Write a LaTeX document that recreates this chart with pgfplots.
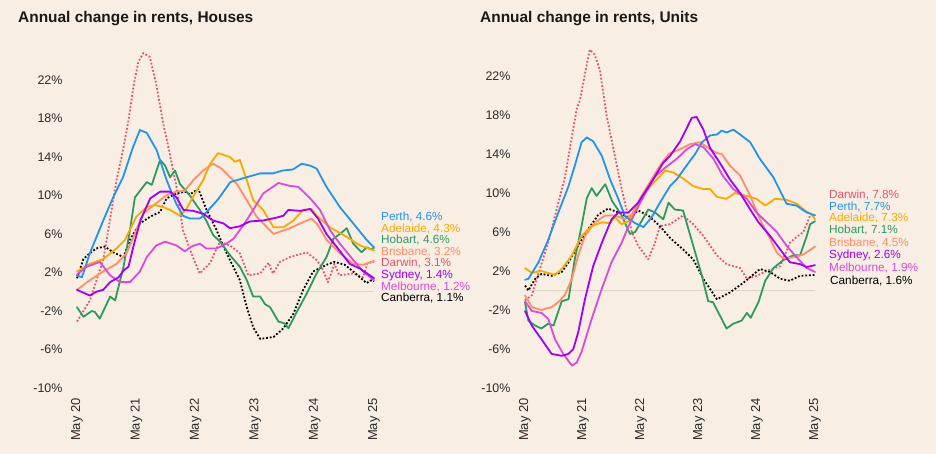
\documentclass[border=0pt]{standalone}
\usepackage{fontspec}
\setmainfont{Liberation Sans}
\usepackage{pgfplots}
\pgfplotsset{compat=1.18}

\definecolor{bgc}{HTML}{F8EEE3}
\definecolor{tickc}{HTML}{2A2A2A}
\definecolor{basec}{HTML}{DDD4CA}
\definecolor{perth}{HTML}{2493EC}
\definecolor{adelaide}{HTML}{F4AA05}
\definecolor{hobart}{HTML}{2F9A5E}
\definecolor{brisbane}{HTML}{FF8D68}
\definecolor{darwin}{HTML}{E8556A}
\definecolor{sydney}{HTML}{A000FA}
\definecolor{melbourne}{HTML}{D94BD9}

\pgfplotsset{
  rentax/.style={
    scale only axis, anchor=south west, clip=false,
    xmin=0, xmax=60, ymin=-10, ymax=22,
    axis line style={draw=none}, major tick length=0pt,
    xtick={0,12,24,36,48,60},
    xticklabels={May 20,May 21,May 22,May 23,May 24,May 25},
    ytick={-10,-6,-2,2,6,10,14,18,22},
    yticklabels={-10\%,-6\%,-2\%,2\%,6\%,10\%,14\%,18\%,22\%},
    yticklabel style={font=\fontsize{12.5}{12.5}\selectfont, text=tickc, anchor=east, xshift=-11bp},
    xticklabel style={font=\fontsize{13}{13}\selectfont, text=tickc, rotate=90, anchor=east, xshift=-7bp},
    every axis plot/.append style={line width=1.8bp, line join=round, mark=none},
  },
  solid line/.style={line cap=round},
  dot line/.style={line cap=butt, dash pattern=on 1.8bp off 1.9bp},
}

\newcommand{\lab}[3]{\node[anchor=west, inner sep=0pt, text=#1, font=\fontsize{11.8}{11.8}\selectfont] at (#2) {#3};}

\begin{document}
\begin{tikzpicture}
\begin{scope}[x=1bp, y=1bp]
\fill[bgc] (0,0) rectangle (936,454);
\node[anchor=west, inner sep=0pt, font=\fontsize{15.5}{15.5}\bfseries\selectfont, text=black!90] at (18,435) {Annual change in rents, Houses};
\node[anchor=west, inner sep=0pt, font=\fontsize{15.5}{15.5}\bfseries\selectfont, text=black!90] at (480,435) {Annual change in rents, Units};
\end{scope}

% Houses
\begin{axis}[rentax, at={(77bp,66bp)}, width=297bp, height=308bp]
\addplot[basec, line width=1.2bp] coordinates {(0,0) (60,0)};
\addplot[darwin, dot line] coordinates {(0,-3.1)(2.6,-0.9)(5.3,3.3)(8,11.6)(9.4,15.0)(10.4,17.8)(11.4,21.3)(12.4,23.9)(13.4,24.8)(14.7,24.4)(16,21.6)(17.4,17.5)(18.1,15.9)(20.1,10.9)(21.4,6.4)(23.4,3.6)(24.8,1.9)(26.9,3.0)(28.2,4.5)(28.9,5.2)(30.9,4.8)(32.9,4.0)(34.6,1.7)(37,1.9)(38.7,3.0)(39.6,1.9)(41,3.1)(43,3.6)(46.4,4.1)(48.4,3.3)(49.4,2.6)(50.7,1.0)(52,2.9)(53,1.7)(55.8,1.9)(57.8,1.5)(58.7,3.0)(60,3.1)};
\addplot[black, dot line] coordinates {(0,1.4)(1.3,3.4)(2.6,4.0)(3.9,4.5)(5.6,4.7)(7.3,4.1)(9.4,3.6)(10.7,5.4)(12.7,7.1)(14.8,7.8)(16.8,8.3)(18.1,9.7)(20.1,10.2)(21.8,10.4)(22.8,10.1)(24.5,10.7)(26.1,8.6)(28.2,6.4)(29.5,4.8)(30.9,3.3)(32.9,1.2)(34.3,-1.6)(35.6,-3.7)(37,-4.9)(39.7,-4.7)(41.7,-3.8)(43.7,-2.3)(45.7,0.2)(47.7,2.1)(50.4,2.8)(52,3.1)(54.1,2.8)(55.8,2.1)(58.5,0.9)(59.5,1.2)(60,1.1)};
\addplot[hobart, solid line] coordinates {(0,-1.6)(1.3,-2.6)(3,-2.0)(3.6,-2.1)(4.6,-2.8)(6.7,-0.5)(7.7,-0.9)(9.4,2.6)(10.7,6.4)(11.7,9.8)(14.1,11.4)(15.1,11.1)(16.8,13.7)(17.8,13.1)(18.8,11.9)(19.8,12.6)(20.8,11.2)(22.8,10.0)(24.8,8.5)(26.1,7.4)(27.5,5.9)(28.9,5.2)(30.9,3.8)(32.9,2.6)(34.3,1.2)(35.6,-0.5)(37,-0.5)(38,-1.3)(39,-1.6)(40.7,-3.1)(42,-3.3)(42.7,-3.8)(44.4,-2.1)(46.4,-0.2)(48.4,1.9)(50.4,3.6)(51.8,5.5)(53.1,6.0)(54.5,6.6)(55.8,5.0)(57.5,4.1)(58.5,4.6)(59.5,4.4)(60,4.6)};
\addplot[brisbane, solid line] coordinates {(0,0.2)(2.6,1.2)(5.3,2.1)(8,2.9)(10,4.0)(12,6.4)(13.4,8.1)(16,9.2)(18,10.0)(20,10.4)(21.8,10.5)(23.5,11.6)(25.5,12.6)(27.5,13.3)(29.2,12.8)(30.9,11.9)(32.3,11.2)(34.3,9.5)(36.3,7.8)(39.7,6.0)(43,6.6)(45.1,7.1)(47.4,7.6)(48.7,6.9)(50.4,5.4)(53.1,4.0)(55.8,2.9)(57.8,2.8)(60,3.2)};
\addplot[adelaide, solid line] coordinates {(0,2.1)(2.6,2.9)(5.3,3.4)(8,4.5)(9.7,5.4)(12,7.8)(14.1,8.8)(15.7,9.0)(17.4,8.8)(18.8,8.5)(20.8,7.9)(22.1,8.6)(23.8,10.2)(25.5,11.6)(26.9,13.3)(28.5,14.4)(30.9,14.0)(31.9,13.5)(32.9,13.7)(34.3,11.6)(35.6,9.5)(37.6,8.5)(39.7,6.7)(41.7,6.7)(43.7,7.4)(45.7,8.5)(47.4,8.6)(48.4,7.9)(51.1,6.7)(54.5,5.7)(57.2,4.8)(60,4.3)};
\addplot[perth, solid line] coordinates {(0,1.7)(1,1.5)(2.6,4.0)(5.3,7.4)(7.3,9.8)(9.3,11.9)(11.3,15.0)(12.7,16.8)(14.1,16.5)(16.1,14.7)(18.1,11.6)(20,9.2)(21.4,7.9)(22.8,7.6)(24.8,7.6)(25.5,7.9)(28.5,9.6)(31,11.4)(34.3,11.9)(37,12.3)(39.6,12.3)(41.6,12.6)(43.6,12.7)(45.4,13.3)(47.1,13.1)(48.4,12.8)(50.4,10.9)(53.1,8.8)(55.8,7.1)(58.5,5.4)(60,4.6)};
\addplot[melbourne, solid line] coordinates {(0,1.8)(2,2.6)(4.6,3.1)(6.7,1.7)(8.7,1.0)(10.7,1.0)(12.7,2.1)(14.1,3.6)(16,4.8)(17.8,5.2)(20.1,4.8)(21.8,4.2)(23.1,4.7)(24.8,5.0)(26.1,4.5)(28.2,4.5)(30.2,5.0)(31.6,5.5)(33.6,6.9)(35.6,8.5)(37.6,10.2)(40.7,11.3)(43,11.0)(44.7,10.9)(47.1,9.7)(49.1,8.5)(51.1,6.4)(53.1,5.0)(55.8,3.3)(57.8,2.1)(60,1.2)};
\addplot[sydney, solid line] coordinates {(0,0.2)(2.6,-0.4)(3.9,0)(5.3,0.2)(6.7,1.0)(8.4,1.5)(9.4,2.2)(10.4,2.6)(11.4,4.7)(12.8,7.4)(14.8,9.7)(16.8,10.4)(18.8,10.4)(20.1,9.8)(21.5,8.5)(23.5,8.4)(25.5,8.1)(27.5,7.4)(29.6,7.1)(30.9,6.6)(32.9,6.8)(34.9,7.3)(37.6,7.4)(40.3,7.7)(41.7,7.9)(42.7,8.5)(45.1,8.4)(47.1,8.6)(48.7,7.6)(50.4,6.0)(52.4,4.7)(55.1,2.9)(57.2,2.4)(60,1.4)};
\end{axis}

% Units
\begin{axis}[rentax, at={(525bp,66bp)}, width=290bp, height=312bp]
\addplot[basec, line width=1.2bp] coordinates {(0,0) (60,0)};
\addplot[darwin, dot line] coordinates {(0,-1.0)(1.4,-0.5)(2.8,1.8)(4.8,4.9)(6.9,9.0)(8.3,11.7)(9.7,15.8)(10.7,18.6)(11.4,19.6)(12.4,22.2)(13.4,24.7)(14.4,24.2)(15.5,22.6)(16.9,17.9)(18.6,13.8)(20,10.4)(22.1,6.0)(23.4,4.6)(25.5,3.2)(26.9,4.9)(27.9,6.6)(30,6.8)(32.7,7.7)(34.8,6.8)(36.9,5.6)(39.7,3.6)(41.7,2.7)(44.5,2.3)(45.9,1.2)(47.9,1.5)(50,2.0)(52.8,2.5)(54.8,4.9)(56.2,5.5)(57.6,6.0)(59,7.7)(60,7.8)};
\addplot[black, dot line] coordinates {(0,0.5)(0.7,0)(2.1,1.2)(3.4,1.7)(5.5,1.5)(7.6,1.9)(9,2.9)(11,4.6)(13.1,6.3)(15.2,7.8)(17.2,8.4)(19.3,8.0)(21.4,7.5)(23.4,8.2)(25.5,7.7)(27.9,6.6)(30,5.4)(32.7,4.2)(34.8,3.2)(36.9,1.2)(39.7,-0.9)(42.4,-0.2)(45.2,0.8)(48.6,2.2)(50.7,1.9)(52.8,1.2)(54.8,1.0)(56.9,1.5)(60,1.6)};
\addplot[hobart, solid line] coordinates {(0,-1.2)(0.7,-3.1)(2.1,-3.6)(3.4,-3.9)(4.8,-3.4)(5.9,-3.6)(7.6,-1.1)(9,-0.9)(10.3,3.2)(11.7,6.6)(12.8,9.5)(13.8,10.5)(14.8,9.7)(16.6,10.9)(18,9.2)(20,7.7)(21.7,5.8)(22.8,6.0)(25.5,8.3)(26.9,8.0)(28.6,7.3)(29.7,9.0)(31,8.3)(32.7,8.2)(34.8,4.6)(36.6,1.5)(37.9,-1.1)(38.9,-1.2)(41.7,-3.9)(43.1,-3.4)(44.8,-3.1)(45.9,-2.3)(46.7,-2.8)(48.3,-1.2)(49.7,1.0)(51.4,2.3)(53.4,3.1)(55.5,3.6)(56.9,3.6)(58.3,5.6)(59,6.8)(60,7.1)};
\addplot[brisbane, solid line] coordinates {(0,-0.5)(1.4,-1.7)(3.4,-2.0)(5.5,-1.7)(6.9,-1.2)(8.3,-0.4)(9.7,1.2)(11,3.6)(12.4,5.6)(14.5,7.0)(16.6,7.7)(18.6,7.7)(20.7,7.3)(22.1,7.8)(24.1,9.7)(26.2,11.4)(27.9,12.8)(29.7,14.0)(32.1,14.5)(34.1,15.0)(36.2,15.2)(38.3,14.5)(39.7,14.1)(40.7,14.0)(42.4,12.8)(44.5,11.8)(46.6,9.7)(48.6,7.3)(50.7,5.3)(52.1,3.9)(53.4,3.3)(55.5,3.4)(57.6,3.7)(60,4.5)};
\addplot[adelaide, solid line] coordinates {(0,2.3)(1.4,1.8)(3.4,2.0)(4.8,1.8)(6.2,1.6)(7.6,2.2)(9.7,3.6)(11.7,5.6)(13.8,6.6)(15.9,7.0)(17.6,6.9)(18.6,7.5)(20,6.8)(21.4,7.1)(22.8,8.2)(24.8,10.0)(26.9,11.2)(29,12.3)(30.7,12.1)(32.7,11.5)(34.8,10.7)(36.9,10.4)(38.3,10.4)(39.7,9.6)(41.7,9.4)(43.4,10.0)(45.9,9.7)(47.9,9.4)(49.7,8.7)(51.7,9.4)(54.1,9.3)(56.2,8.9)(57.9,8.2)(59.3,7.8)(60,7.3)};
\addplot[perth, solid line] coordinates {(0,1.1)(0.7,1.2)(2.8,2.9)(4.8,5.2)(6.9,8.0)(9,10.7)(10.3,12.8)(11.7,15.2)(12.8,15.7)(14.1,15.3)(15.9,13.8)(17.6,11.4)(19.3,9.4)(20.7,7.6)(22.8,6.9)(24.5,6.5)(26.2,7.5)(27.9,9.0)(30,10.7)(31.4,11.4)(33.4,12.8)(35.2,14.0)(36.6,15.2)(38.3,15.9)(39.7,16.0)(40.7,16.4)(41.7,16.2)(43.1,16.5)(44.5,16.0)(46.6,15.2)(48.6,13.5)(51.4,11.6)(54.1,8.9)(56.2,8.7)(58.3,8.0)(60,7.7)};
\addplot[melbourne, solid line] coordinates {(0,-1.1)(1.4,-2.1)(3.4,-2.3)(4.8,-2.9)(6.2,-5.0)(7.9,-6.5)(9.7,-7.7)(10.7,-7.4)(11.7,-6.3)(13.8,-2.9)(15.9,0.2)(17.9,2.9)(20,4.9)(21.4,6.6)(22.8,8.0)(24.8,9.9)(26.9,11.7)(29,12.6)(31.4,13.5)(33.5,14.5)(35.2,15.0)(36.9,14.7)(39,13.5)(41,11.7)(43.1,10.4)(45.9,9.4)(47.9,8.0)(50,7.0)(52.1,6.0)(54.1,4.6)(56.2,3.4)(58.3,2.3)(60,1.9)};
\addplot[sydney, solid line] coordinates {(0,-2.1)(1.4,-3.6)(3.4,-5.0)(5.5,-6.5)(7.6,-6.7)(9,-6.5)(10,-6.0)(11,-4.3)(12.4,-0.9)(14.1,2.5)(15.9,4.9)(17.9,7.3)(19.3,8.0)(21.4,8.0)(23.4,9.0)(25.5,10.6)(26.9,11.7)(28.6,13.1)(30,13.8)(32.1,15.3)(33.5,16.7)(34.5,17.7)(35.5,17.8)(36.9,16.5)(38.3,14.6)(40.3,13.1)(42.4,11.4)(44.5,10.0)(46.6,8.3)(48.3,7.0)(50.7,5.6)(52.8,4.2)(54.8,2.9)(56.9,2.7)(58.3,2.4)(60,2.6)};
\end{axis}

\begin{scope}[x=1bp, y=1bp]
% end labels, houses
\lab{perth}{381,236.5}{Perth, 4.6\%}
\lab{adelaide}{381,225}{Adelaide, 4.3\%}
\lab{hobart}{381,213.5}{Hobart, 4.6\%}
\lab{brisbane}{381,202}{Brisbane, 3.2\%}
\lab{darwin}{381,190.5}{Darwin, 3.1\%}
\lab{sydney}{381,179}{Sydney, 1.4\%}
\lab{melbourne}{381,167.5}{Melbourne, 1.2\%}
\lab{black}{381,156}{Canberra, 1.1\%}
% end labels, units
\lab{darwin}{829,258.5}{Darwin, 7.8\%}
\lab{perth}{829,247}{Perth, 7.7\%}
\lab{adelaide}{829,235.5}{Adelaide, 7.3\%}
\lab{hobart}{829,223.5}{Hobart, 7.1\%}
\lab{brisbane}{829,211}{Brisbane, 4.5\%}
\lab{sydney}{829,198.5}{Sydney, 2.6\%}
\lab{melbourne}{829,186}{Melbourne, 1.9\%}
\lab{black}{830,173.5}{Canberra, 1.6\%}
\pgfresetboundingbox
\path[use as bounding box] (0,0) rectangle (936,454);
\end{scope}
\end{tikzpicture}
\end{document}
